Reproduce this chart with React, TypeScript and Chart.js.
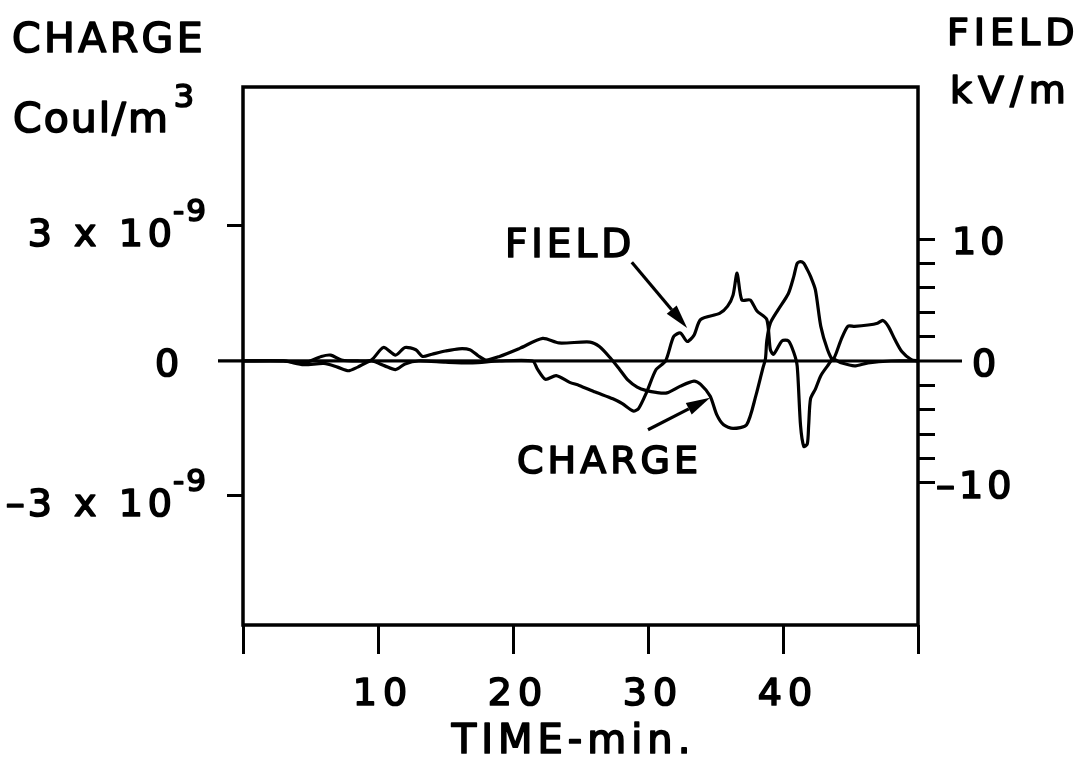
import { useEffect, useRef } from 'react';
import { Chart, registerables } from 'chart.js';
Chart.register(...registerables);

// ---- data (time in minutes) ----
const chargeTime = [0, 3, 4.5, 5.8, 6.5, 7.3, 8.5, 9.5, 10.4, 11.3, 12, 12.8, 13.3, 14, 15, 16, 16.8, 17.4, 18, 19, 20.5, 22.2, 23.4, 25.7, 26.4, 27.2, 27.9, 28.5, 29.2, 29.9, 30.6, 31.4, 32.4, 33.4, 33.9, 34.6, 35.1, 35.6, 36.3, 37.3, 38.0, 38.5, 38.7, 38.8, 39.06, 39.6, 40.4, 40.8, 41.05, 41.3, 41.54, 41.8, 42.04, 42.4, 42.8, 43.3, 43.7, 44.3, 44.8, 45.3, 46.3, 47.0, 47.4, 47.8, 48.3, 48.8, 49.5, 50];
// charge in units of 1e-9 Coul/m^3
const chargeValues = [0, 0, -0.05, 0.1, 0.13, 0.02, 0, 0.02, 0.3, 0.13, 0.3, 0.25, 0.1, 0.15, 0.22, 0.27, 0.25, 0.12, 0.02, 0.1, 0.28, 0.5, 0.4, 0.42, 0.32, 0.07, -0.19, -0.42, -0.58, -0.66, -0.7, -0.71, -0.56, -0.45, -0.52, -0.78, -1.2, -1.42, -1.5, -1.42, -0.76, -0.17, 0.05, 0.45, 0.84, 1.12, 1.5, 1.88, 2.17, 2.21, 2.17, 2.03, 1.88, 1.58, 0.77, 0.25, 0.03, 0.47, 0.77, 0.77, 0.8, 0.84, 0.9, 0.77, 0.47, 0.21, 0.03, 0];

const fieldTime = [0, 3, 4.5, 6, 7, 7.8, 8.5, 9.5, 10.5, 11.3, 12, 13, 15, 17, 19, 21.45, 21.8, 22.4, 23.2, 24.2, 24.9, 26.1, 27.4, 28.1, 28.9, 29.3, 29.9, 30.6, 31.3, 31.9, 32.4, 32.9, 33.4, 33.9, 35.3, 35.9, 36.3, 36.6, 36.95, 37.57, 38.07, 38.8, 39.06, 39.3, 39.93, 40.4, 40.8, 41.05, 41.3, 41.54, 41.8, 41.9, 42.04, 42.4, 42.8, 43.3, 43.7, 44.3, 45.3, 46.3, 48, 50];
// field in kV/m
const fieldValues = [0, 0, -0.3, -0.2, -0.5, -0.8, -0.5, 0, -0.4, -0.7, -0.25, 0, -0.1, -0.15, 0, 0, -0.65, -1.5, -1.2, -1.75, -2.0, -2.55, -3.1, -3.5, -4.1, -3.9, -2.55, -0.7, 0, 2.0, 2.3, 1.6, 2.1, 3.4, 3.9, 4.5, 5.4, 7.2, 5.0, 5.0, 4.1, 3.4, 0.95, 0.55, 1.65, 1.65, 0.7, -0.4, -5.3, -7.0, -6.8, -5.3, -3.1, -2.3, -1.2, -0.4, 0.15, -0.15, -0.4, -0.15, 0, 0];

// ---- axes / tick labels ----
const timeTicks = [0, 10, 20, 30, 40, 50];
const timeTickLabels = ['', '10', '20', '30', '40', ''];
const chargeTicks = [-3, 0, 3];
const chargeTickLabels = ['3 x 10', '0', '3 x 10'];
const chargeTickExp = ['-9', '', '-9'];
const fieldTicks = [-10, -8, -6, -4, -2, 0, 2, 4, 6, 8, 10];
const fieldLabelTicks = [-10, 0, 10];
const fieldTickLabels = ['\u201310', '0', '10'];

// annotations (data coords)
const fieldNote = { text: 'FIELD', t: 19.4, v: 8.5, fromT: 28.8, fromV: 8.1, toT: 32.9, toV: 2.7 };
const chargeNote = { text: 'CHARGE', t: 20.3, v: -2.49, fromT: 30.0, fromV: -1.53, toT: 34.6, toV: -0.82 };

const FONT = '"DejaVu Sans", sans-serif';

function drawSpaced(ctx: CanvasRenderingContext2D, text: string, x: number, y: number, size: number, spacing: number, align: 'left' | 'center' | 'right' = 'left') {
  ctx.save();
  ctx.font = `${size}px ${FONT}`;
  ctx.textBaseline = 'alphabetic';
  ctx.textAlign = 'left';
  ctx.fillStyle = '#000';
  ctx.strokeStyle = '#000';
  ctx.lineWidth = 1.7;
  ctx.lineJoin = 'round';
  const chars = Array.from(text);
  const widths = chars.map((c) => ctx.measureText(c).width);
  const total = widths.reduce((a, b) => a + b, 0) + spacing * (chars.length - 1);
  let cx = align === 'left' ? x : align === 'center' ? x - total / 2 : x - total;
  chars.forEach((c, i) => {
    ctx.fillText(c, cx, y);
    ctx.strokeText(c, cx, y);
    cx += widths[i] + spacing;
  });
  ctx.restore();
  return total;
}

function drawArrow(ctx: CanvasRenderingContext2D, x1: number, y1: number, x2: number, y2: number) {
  const ang = Math.atan2(y2 - y1, x2 - x1);
  const headLen = 24;
  const headW = 6.5;
  const bx = x2 - Math.cos(ang) * headLen;
  const by = y2 - Math.sin(ang) * headLen;
  ctx.save();
  ctx.strokeStyle = '#000';
  ctx.fillStyle = '#000';
  ctx.lineWidth = 3.2;
  ctx.beginPath();
  ctx.moveTo(x1, y1);
  ctx.lineTo(bx, by);
  ctx.stroke();
  ctx.beginPath();
  ctx.moveTo(x2, y2);
  ctx.lineTo(bx + Math.sin(ang) * headW, by - Math.cos(ang) * headW);
  ctx.lineTo(bx - Math.sin(ang) * headW, by + Math.cos(ang) * headW);
  ctx.closePath();
  ctx.fill();
  ctx.restore();
}

const decorPlugin = {
  id: 'decor',
  afterDraw(chart: any) {
    const ctx: CanvasRenderingContext2D = chart.ctx;
    const area = chart.chartArea;
    const xs = chart.scales.x;
    const yl = chart.scales.yL;
    const yr = chart.scales.yR;

    // frame
    ctx.save();
    ctx.strokeStyle = '#000';
    ctx.lineWidth = 3.5;
    ctx.strokeRect(area.left, area.top, area.right - area.left, area.bottom - area.top);
    // zero line extending past both axes
    ctx.lineWidth = 3.2;
    ctx.beginPath();
    ctx.moveTo(area.left - 25, yl.getPixelForValue(0));
    ctx.lineTo(area.right + 44, yr.getPixelForValue(0));
    ctx.stroke();
    ctx.restore();

    // x tick labels
    timeTicks.forEach((v, i) => {
      if (!timeTickLabels[i]) return;
      drawSpaced(ctx, timeTickLabels[i], xs.getPixelForValue(v) + 2, area.bottom + 80, 38, 6, 'center');
    });
    // x title
    drawSpaced(ctx, 'TIME-min.', xs.getPixelForValue(24.3), area.bottom + 128, 40, 5, 'center');

    // left tick labels
    chargeTicks.forEach((v, i) => {
      const y = yl.getPixelForValue(v);
      if (v === 0) {
        drawSpaced(ctx, chargeTickLabels[i], area.left - 76, y + 15, 38, 0, 'center');
      } else {
        const w = drawSpaced(ctx, chargeTickLabels[i], area.left - 71, y + 20, 38, 5, 'right');
        if (v < 0) drawSpaced(ctx, '\u2013', area.left - 71 - w - 3, y + 20, 38, 0, 'right');
        drawSpaced(ctx, chargeTickExp[i], area.left - 70, y - 5, 31, 2, 'left');
      }
    });

    // right tick labels
    fieldLabelTicks.forEach((v, i) => {
      const y = yr.getPixelForValue(v);
      const x0 = v < 0 ? area.right + 18 : v === 0 ? area.right + 54 : area.right + 34;
      drawSpaced(ctx, fieldTickLabels[i], x0, y + 15, 38, 4, 'left');
    });

    // axis titles
    drawSpaced(ctx, 'CHARGE', 12, 52, 41, 3.4, 'left');
    const w = drawSpaced(ctx, 'Coul/m', 13, 132, 41, 2, 'left');
    drawSpaced(ctx, '3', 13 + w + 6, 107, 32, 0, 'left');
    drawSpaced(ctx, 'FIELD', 947, 45, 38, 5, 'left');
    drawSpaced(ctx, 'kV/m', 950, 103, 38, 6, 'left');

    // annotations
    drawSpaced(ctx, fieldNote.text, xs.getPixelForValue(fieldNote.t), yr.getPixelForValue(fieldNote.v), 39, 4, 'left');
    drawArrow(ctx, xs.getPixelForValue(fieldNote.fromT), yr.getPixelForValue(fieldNote.fromV), xs.getPixelForValue(fieldNote.toT), yr.getPixelForValue(fieldNote.toV));
    drawSpaced(ctx, chargeNote.text, xs.getPixelForValue(chargeNote.t), yl.getPixelForValue(chargeNote.v), 38, 4, 'left');
    drawArrow(ctx, xs.getPixelForValue(chargeNote.fromT), yl.getPixelForValue(chargeNote.fromV), xs.getPixelForValue(chargeNote.toT), yl.getPixelForValue(chargeNote.toV));
  },
};

export default function App() {
  const ref = useRef<HTMLCanvasElement | null>(null);
  useEffect(() => {
    if (!ref.current) return;
    const chart = new Chart(ref.current, {
      type: 'line',
      data: {
        datasets: [
          {
            label: 'CHARGE',
            data: chargeTime.map((t, i) => ({ x: t, y: chargeValues[i] })),
            yAxisID: 'yL',
            borderColor: '#000',
            borderWidth: 3.2,
            pointRadius: 0,
            tension: 0.25,
            fill: false,
          },
          {
            label: 'FIELD',
            data: fieldTime.map((t, i) => ({ x: t, y: fieldValues[i] })),
            yAxisID: 'yR',
            borderColor: '#000',
            borderWidth: 3.2,
            pointRadius: 0,
            tension: 0.25,
            fill: false,
          },
        ],
      },
      options: {
        animation: false,
        responsive: true,
        maintainAspectRatio: false,
        devicePixelRatio: 1,
        layout: { padding: { top: 87, left: 0, right: 0, bottom: 0 } },
        plugins: { legend: { display: false }, tooltip: { enabled: false }, title: { display: false } },
        scales: {
          x: {
            type: 'linear',
            position: 'bottom',
            min: 0,
            max: 50,
            afterFit: (s: any) => { s.height = 133; },
            afterBuildTicks: (s: any) => { s.ticks = timeTicks.map((v) => ({ value: v })); },
            ticks: { display: false },
            grid: { drawOnChartArea: false, drawTicks: true, tickLength: 29, tickWidth: 3, tickColor: '#000' },
            border: { display: false },
          },
          yL: {
            type: 'linear',
            position: 'left',
            min: -5.87,
            max: 6.09,
            afterFit: (s: any) => { s.width = 243; },
            afterBuildTicks: (s: any) => { s.ticks = chargeTicks.map((v) => ({ value: v })); },
            ticks: { display: false },
            grid: {
              drawOnChartArea: false,
              drawTicks: true,
              tickLength: 16,
              tickWidth: 3,
              tickColor: (c: any) => (c.tick && c.tick.value === 0 ? 'rgba(0,0,0,0)' : '#000'),
            },
            border: { display: false },
          },
          yR: {
            type: 'linear',
            position: 'right',
            min: -21.64,
            max: 22.46,
            afterFit: (s: any) => { s.width = 168; },
            afterBuildTicks: (s: any) => { s.ticks = fieldTicks.map((v) => ({ value: v })); },
            ticks: { display: false },
            grid: {
              drawOnChartArea: false,
              drawTicks: true,
              tickLength: 17,
              tickWidth: 3,
              tickColor: (c: any) => (c.tick && c.tick.value === 0 ? 'rgba(0,0,0,0)' : '#000'),
            },
            border: { display: false },
          },
        },
      },
      plugins: [decorPlugin],
    } as any);
    return () => chart.destroy();
  }, []);

  return (
    <div style={{ position: 'absolute', left: 0, top: 0, width: 1086, height: 758, background: '#fff' }}>
      <canvas ref={ref} />
    </div>
  );
}
